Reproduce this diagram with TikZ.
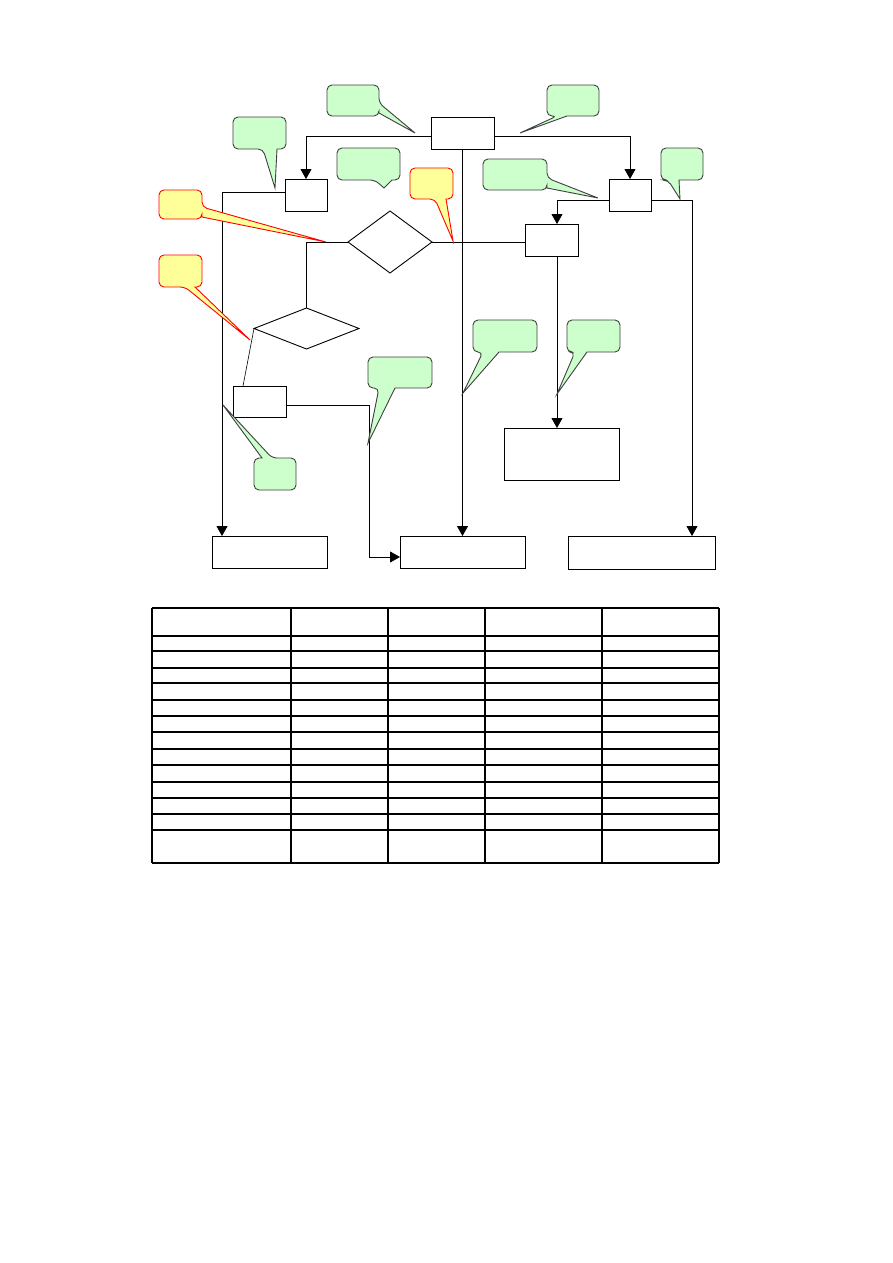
\documentclass[tikz,border=0pt]{standalone}
\usetikzlibrary{arrows.meta,shapes.geometric}
\definecolor{cgreen}{HTML}{CCFFCC}
\definecolor{cyellow}{HTML}{FFFF99}
\definecolor{cedge}{HTML}{404040}
\tikzset{
  ln/.style={line width=0.85pt, line cap=rect},
  thinln/.style={line width=0.6pt},
  arr/.style={-{Triangle[width=11pt,length=10pt]}},
  box/.style={draw, line width=0.9pt, inner sep=0pt, outer sep=0pt},
  dia/.style={draw, diamond, line width=0.9pt, inner sep=0pt, outer sep=0pt},
  gcall/.style={fill=cgreen, draw=cedge, line width=0.9pt, line join=miter},
  ycall/.style={fill=cyellow, draw=red, line width=0.9pt, line join=miter},
  tab/.style={line width=1.2pt}
}
% callout with pointer on bottom: style, x1,y1,x2,y2, base1, base2, tipx, tipy
\newcommand\cbot[9]{\draw[#1] (#7,#5) [rounded corners=5pt] -- (#4,#5) -- (#4,#3) -- (#2,#3) -- (#2,#5) -- (#6,#5) [sharp corners] -- (#8,#9) -- cycle;}
% pointer on right side: base y1<y2
\newcommand\cright[9]{\draw[#1] (#4,#7) [rounded corners=5pt] -- (#4,#5) -- (#2,#5) -- (#2,#3) -- (#4,#3) -- (#4,#6) [sharp corners] -- (#8,#9) -- cycle;}
% pointer on top side
\newcommand\ctop[9]{\draw[#1] (#6,#3) [rounded corners=5pt] -- (#2,#3) -- (#2,#5) -- (#4,#5) -- (#4,#3) -- (#7,#3) [sharp corners] -- (#8,#9) -- cycle;}
\begin{document}
\begin{tikzpicture}[x=1pt,y=-1pt]
\useasboundingbox[fill=white] (0,0) rectangle (893,1263);

% boxes
\node[box, minimum width=63pt, minimum height=32pt] (top) at (462.5,133) {};
\node[box, minimum width=42pt, minimum height=32pt] (A) at (306,195) {};
\node[box, minimum width=42pt, minimum height=32pt] (B) at (630,195) {};
\node[box, minimum width=53pt, minimum height=32pt] (C) at (551.5,240) {};
\node[box, minimum width=115pt, minimum height=52pt] (D) at (561.5,454) {};
\node[box, minimum width=53pt, minimum height=31pt] (E) at (259.5,401.5) {};
\node[box, minimum width=115pt, minimum height=32pt] (BL) at (269.5,552) {};
\node[box, minimum width=125pt, minimum height=32pt] (BM) at (462.5,552) {};
\node[box, minimum width=147pt, minimum height=33pt] (BR) at (641.5,552.5) {};
\node[dia, minimum width=84pt, minimum height=62pt] (d1) at (390,242) {};
\node[dia, minimum width=105pt, minimum height=41pt] (d2) at (306.5,328.5) {};

% connectors
\draw[ln,arr] ([yshift=-3.5pt]top.west) -| (A.north);
\draw[ln,arr] ([yshift=-3.5pt]top.east) -| (B.north);
\draw[ln,arr] ([yshift=3pt]A.west) -| ([xshift=-47.5pt]BL.north);
\draw[ln,arr] (top.south) -- (BM.north);
\draw[ln,arr] ([yshift=-5pt]B.east) -| ([xshift=50.5pt]BR.north);
\draw[ln,arr] ([yshift=-5pt]B.west) -| ([xshift=5.5pt]C.north);
\draw[ln,arr] ([xshift=5.5pt]C.south) -- ([xshift=5.5pt]C.south |- D.north);
\draw[ln] (d1.east) -- (d1.east -| C.west);
\draw[ln] (d1.west) -| (d2.north);
\draw[thinln] (d2.west) -- ([xshift=10pt]E.north west);
\draw[ln,arr] ([yshift=-3.5pt]E.east) -- ++(83,0) |- ([yshift=-5pt]BM.west);

% callouts
\cright{gcall}{327}{85}{379}{116}{103}{113}{415}{133}
\cbot{gcall}{547}{85}{599}{116}{557}{567}{520}{133}
\cbot{gcall}{233}{117}{286}{149}{263}{277}{275}{188}
\cbot{gcall}{337}{148}{400}{180}{375}{392}{384}{188}
\cright{ycall}{159}{190}{202}{219}{207}{217}{326}{242}
\cbot{ycall}{159}{255}{202}{287}{185}{195}{250}{340}
\cbot{ycall}{410}{168}{453}{199}{435}{446}{453}{241}
\cright{gcall}{483}{159}{547}{190}{178}{188}{598}{198}
\cbot{gcall}{661}{148}{703}{180}{668}{679}{680}{199}
\cbot{gcall}{473}{320}{537}{352}{483}{499}{463}{393}
\cbot{gcall}{567}{320}{620}{352}{575}{587}{557}{394}
\cbot{gcall}{368}{357}{432}{388}{379}{395}{368}{443}
\ctop{gcall}{254}{458}{296}{490}{262}{272}{223}{405}

% table
\foreach \yy in {608,636,651,668,683,700,716,732,749,765,782,798,814,830,863}
  \draw[tab] (152,\yy) -- (719,\yy);
\foreach \xx in {152,291,388,485,602,719}
  \draw[tab] (\xx,608) -- (\xx,863);
\end{tikzpicture}
\end{document}
